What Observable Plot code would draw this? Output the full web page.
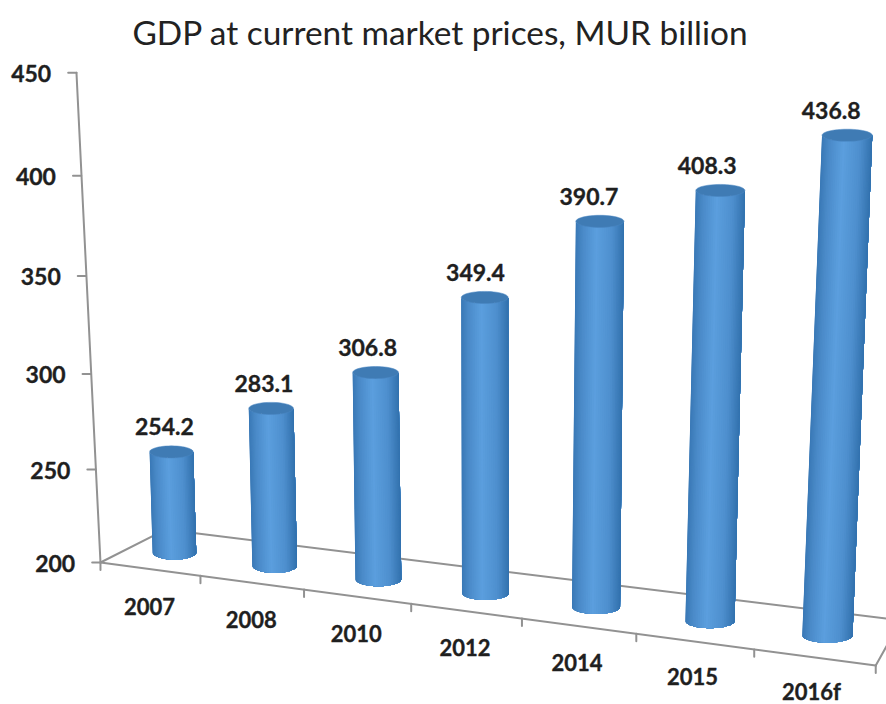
<!DOCTYPE html>
<html>
<head>
<meta charset="utf-8">
<script src="https://cdn.jsdelivr.net/npm/d3@7"></script>
<script src="https://cdn.jsdelivr.net/npm/@observablehq/plot@0.6"></script>
<style>
  html, body { margin: 0; padding: 0; background: #fff; }
  #title { height: 56px; width: 880px; text-align: center; font: 400 33.4px/64px Lato, sans-serif; color: #222; white-space: nowrap; }
  svg { display: block; }
</style>
</head>
<body>
<div id="title">GDP at current market prices, MUR billion</div>
<script>
const categories = ["2007", "2008", "2010", "2012", "2014", "2015", "2016f"];
const values = [254.2, 283.1, 306.8, 349.4, 390.7, 408.3, 436.8];
const yTicks = [200, 250, 300, 350, 400, 450];

// Perspective: (category index, value) -> the units of the plot's x and y scales
const project = (i, v) => {
  const t = v - 200;
  return [
    0.668 + 0.89 * i + 0.0155 * i * i + (-0.0005 + 0.000095 * i + 0.000019 * i * i) * t,
    205.1 - 6.7 * i - 0.06 * i * i + (0.934 + 0.0235 * i) * t + (t > 0 ? 0.7 : 0)
  ];
};
const wall = (v) => { const t = v - 200; return [-0.000867 * t, 200 + 0.936 * t + 0.000255 * t * t]; };
const floor = (k, depth) => {
  const u = 0.887 * k + 0.0162 * k * k, w = 200 - 7.506 * u;
  return [u + depth * (0.587 - 0.0515 * k), w + depth * (16.8 + 0.886 * k)];
};
const radius = (i) => 0.197 + 0.005 * i;
const RY = {bottom: 3.6, top: 3.1};

const shade = d3.scaleLinear()
  .domain([-1, -0.7, -0.15, 0.5, 1])
  .range(["#3a79b6", "#4a8ac8", "#5b9ede", "#4e8fce", "#3372ae"]);

// Each shading band runs from its left edge to the bar's right edge and is painted
// over the previous one, so neighbouring bands leave no seams.
const strips = [];
const caps = [];
const N = 36;
values.forEach((v, i) => {
  const r = radius(i);
  const b = project(i, 200), a = project(i, v);
  for (let j = 0; j < N; j++) {
    const fill = shade(-Math.cos(Math.PI * (j + 0.5) / N));
    const id = i + "-" + j;
    const angles = d3.range(j, N + 1).map(k => Math.PI * k / N);
    for (const t of angles) strips.push({id, fill, x: b[0] - r * Math.cos(t), y: b[1] - RY.bottom * Math.sin(t)});
    for (const t of angles.slice().reverse()) strips.push({id, fill, x: a[0] - r * Math.cos(t), y: a[1] - RY.top * Math.sin(t)});
  }
  for (let j = 0; j < 48; j++) {
    const t = 2 * Math.PI * j / 48;
    caps.push({i, x: a[0] + r * Math.cos(t), y: a[1] + RY.top * Math.sin(t)});
  }
});

const seg = (p, q, id) => [{id, x: p[0], y: p[1]}, {id, x: q[0], y: q[1]}];
const frame = [
  ...seg(wall(200), wall(450), "axis"),
  ...seg(floor(0, 0), floor(7, 0), "front"),
  ...seg(floor(0, 0), floor(0, 1), "left"),
  ...seg(floor(0, 1), floor(7, 1), "back"),
  ...seg(floor(7, 0), floor(7, 1), "right"),
  ...yTicks.flatMap(v => { const p = wall(v); return seg(p, [p[0] - 0.075, p[1]], "y" + v); }),
  ...d3.range(8).flatMap(k => { const p = floor(k, 0); return seg(p, [p[0], p[1] - 3.8], "x" + k); })
];

const label = {fontFamily: "Lato", fontWeight: 700, fill: "#1f1f1f", stroke: "#1f1f1f", strokeWidth: 0.35};

const chart = Plot.plot({
  width: 886,
  height: 648,
  margin: 0,
  x: {domain: [-0.903, 7.1], range: [0, 886], axis: null},
  y: {domain: [127.55, 458.2], range: [648, 0], axis: null},
  marks: [
    Plot.line(frame, {x: "x", y: "y", z: "id", stroke: "#929292", strokeWidth: 2}),
    Plot.line(strips, {x: "x", y: "y", z: "id", fill: "fill", stroke: "none"}),
    Plot.line(caps, {x: "x", y: "y", z: "i", fill: "#3f7bb4", stroke: "#4a87c2", strokeWidth: 0.5}),
    Plot.text(yTicks, {
      ...label, x: v => wall(v)[0] - 0.075, y: v => wall(v)[1], text: v => String(v),
      textAnchor: "end", dx: -17, dy: 2, fontSize: 23
    }),
    ...values.map((v, i) => Plot.text([v], {
      ...label, x: d => project(i, d)[0], y: d => project(i, d)[1], text: d => d.toFixed(1),
      dx: -7 - 0.25 * i * i, dy: -24, fontSize: 23
    })),
    ...categories.map((c, i) => Plot.text([c], {
      ...label, x: () => project(i, 200)[0], y: () => project(i, 200)[1], text: d => d,
      dx: -25 + 1.5 * i, dy: 55 + 0.4 * i, fontSize: 22
    }))
  ]
});
document.body.appendChild(chart);
</script>
</body>
</html>
